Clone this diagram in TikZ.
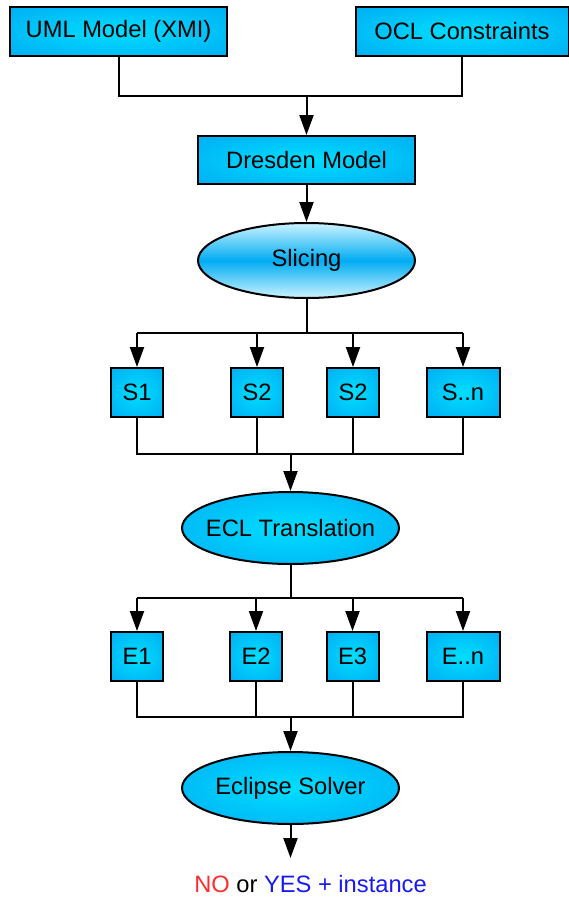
\documentclass[tikz,border=0pt]{standalone}
\usepackage{fontspec}
\setmainfont{Liberation Sans}
\usepackage{xcolor}
\usepackage{tikz}
\usetikzlibrary{shapes.geometric, arrows.meta}
\definecolor{boxout}{RGB}{0,155,238}
\definecolor{boxin}{RGB}{0,222,255}
\definecolor{slicelight}{RGB}{205,243,255}
\definecolor{slicemid}{RGB}{0,172,242}
\definecolor{nored}{RGB}{255,45,45}
\definecolor{yesblue}{RGB}{25,25,245}
\pgfdeclareradialshading{glow}{\pgfpoint{0bp}{0bp}}{color(0bp)=(boxin); color(50bp)=(boxout)}
\tikzstyle{line} = [line width=2pt]
\tikzstyle{arrow} = [line width=2pt,-{Triangle[length=20pt,width=14pt]}]
\tikzstyle{block} = [rectangle, draw, line width=2pt, inner sep=0pt, shading=glow, minimum height=49pt]
\tikzstyle{slot} = [block, minimum width=52pt]
\tikzstyle{stage} = [ellipse, draw, line width=2pt, inner ysep=0pt, inner xsep=-12pt, shading=glow, minimum width=217pt, minimum height=72pt]

\begin{document}
\begin{tikzpicture}[x=1pt,y=-1pt,font=\fontsize{23.7}{28}\selectfont]
                \useasboundingbox (0,0) rectangle (569,897);
                % inputs
                \node[block, minimum width=217pt] (uml) at (118.5,31.5) {UML Model (XMI)};
                \node[block, minimum width=213pt] (ocl) at (462,31.5) {OCL Constraints};
                \node[block, minimum width=217pt, minimum height=48pt] (dresden) at (306.5,160) {Dresden Model};
                \node[stage, minimum height=75pt, top color=slicelight, bottom color=slicelight, middle color=slicemid] (slice) at (306.5,260.5) {Slicing};
                % slices
                \node[slot] (s1) at (137,392.5) {S1};
                \node[slot] (s2) at (257,392.5) {S2};
                \node[slot] (s3) at (353,392.5) {S2};
                \node[slot, minimum width=73pt] (sn) at (463,392.5) {S..n};
                \node[stage] (ecl) at (290.5,528) {ECL Translation};
                % encodings
                \node[slot] (e1) at (137,656.5) {E1};
                \node[slot] (e2) at (256,656.5) {E2};
                \node[slot] (e3) at (352.5,656.5) {E3};
                \node[slot, minimum width=73pt] (en) at (463,656.5) {E..n};
                \node[stage] (solver) at (290.5,788) {Eclipse Solver};
                \node (result) at (310.5,884) {\textcolor{nored}{NO} or \textcolor{yesblue}{YES + instance}};
                % forks and joins
                \coordinate (join1) at (306.5,96);
                \coordinate (sfork) at (306.5,333);
                \coordinate (sjoin) at (290.5,454);
                \coordinate (efork) at (290.5,598);
                \coordinate (ejoin) at (290.5,717);
                \coordinate (done) at (290.5,858);
                \draw[line] (uml.south) |- (join1);
                \draw[line] (ocl.south) |- (join1);
                \draw[arrow] (join1) -- (dresden.north);
                \draw[arrow] (dresden.south) -- (slice.north);
                \draw[line] (slice.south) -- (sfork);
                \draw[line] (sfork -| s1) -- (sfork -| sn);
                \draw[arrow] (sfork -| s1) -- (s1.north);
                \draw[arrow] (sfork -| s2) -- (s2.north);
                \draw[arrow] (sfork -| s3) -- (s3.north);
                \draw[arrow] (sfork -| sn) -- (sn.north);
                \draw[line] (s1.south) |- (sjoin);
                \draw[line] (s2.south) |- (sjoin);
                \draw[line] (s3.south) |- (sjoin);
                \draw[line] (sn.south) |- (sjoin);
                \draw[arrow] (sjoin) -- (ecl.north);
                \draw[line] (ecl.south) -- (efork);
                \draw[line] (efork -| e1) -- (efork -| en);
                \draw[arrow] (efork -| e1) -- (e1.north);
                \draw[arrow] (efork -| e2) -- (e2.north);
                \draw[arrow] (efork -| e3) -- (e3.north);
                \draw[arrow] (efork -| en) -- (en.north);
                \draw[line] (e1.south) |- (ejoin);
                \draw[line] (e2.south) |- (ejoin);
                \draw[line] (e3.south) |- (ejoin);
                \draw[line] (en.south) |- (ejoin);
                \draw[arrow] (ejoin) -- (solver.north);
                \draw[arrow] (solver.south) -- (done);
\end{tikzpicture}
\end{document}
